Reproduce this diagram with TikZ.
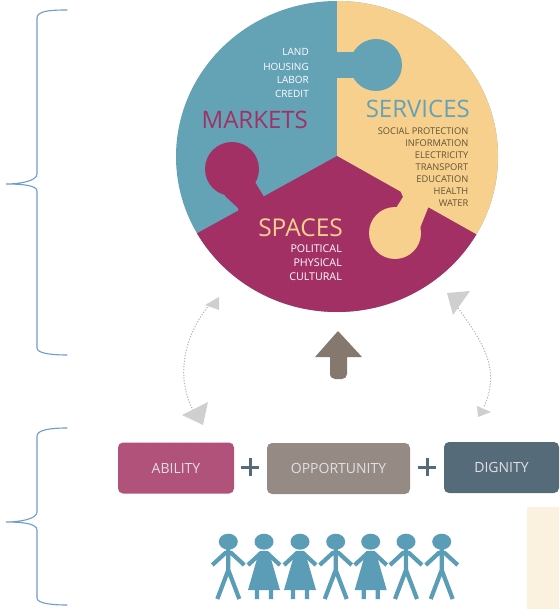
\documentclass[tikz,border=0pt]{standalone}
\usepackage{fontspec}
\setmainfont{Open Sans}
\definecolor{teal1}{HTML}{64A2B6}
\definecolor{sand}{HTML}{F6D08C}
\definecolor{wine}{HTML}{A33064}
\definecolor{boxa}{HTML}{B0527A}
\definecolor{boxb}{HTML}{968A84}
\definecolor{boxc}{HTML}{566B7A}
\definecolor{pers}{HTML}{5B9DB7}
\definecolor{cream}{HTML}{FBF1DF}
\definecolor{brace}{HTML}{6E9BD0}
\definecolor{head}{HTML}{CFCFCF}
\definecolor{upar}{HTML}{85786F}
\tikzset{
  small/.style={anchor=east,font=\fontsize{10}{12}\selectfont,inner sep=0pt},
  smalls/.style={anchor=east,font=\fontsize{9.3}{11}\selectfont,inner sep=0pt,text=black!60!sand},
  smallp/.style={anchor=east,font=\fontsize{10.7}{12}\selectfont,inner sep=0pt,text=white},
  big/.style={anchor=east,font=\fontsize{24}{28}\selectfont,inner sep=0pt},
  factor/.style={rounded corners=5pt,minimum height=51pt,inner sep=0pt,text=white!88!black,font=\fontsize{14}{16}\selectfont},
  bracepath/.style={draw=brace,line width=1.1pt,line cap=round},
  dots/.style={draw=black!30,line width=1pt,dash pattern=on 1.2pt off 1.6pt},
  plusmark/.style={draw=boxc,line width=3pt},
  limb/.style={draw=pers,line width=4.2pt},
}
\newcommand{\manfig}[1]{%
  \fill[pers] (#1,541.7) ellipse [x radius=9.5,y radius=8];
  \draw[limb] (#1,548)--(#1,573) (#1-11,599)--(#1,570)--(#1+11,599) (#1-16,565)--(#1-3,553)--(#1+3,553)--(#1+16,565);
}
\newcommand{\womanfig}[1]{%
  \fill[pers] (#1,541.7) ellipse [x radius=9.5,y radius=8];
  \fill[pers] (#1-5,552)--(#1+5,552)--(#1+16,590)--(#1-16,590)--cycle;
  \draw[limb] (#1-7,588)--(#1-7,599) (#1+7,588)--(#1+7,599) (#1-16,565)--(#1-3,553)--(#1+3,553)--(#1+16,565);
}
\begin{document}
\begin{tikzpicture}[x=1pt,y=-1pt]
\useasboundingbox (0,0) rectangle (559,609);
% wheel
\begin{scope}
  \clip (337,156.5) ellipse [x radius=161,y radius=155.5];
  \fill[teal1] (170,-5) rectangle (500,320);
  \fill[sand] (337,156) -- (337,-10) -- (600,-10) -- (600,304) -- cycle;
  \fill[wine] (337,156) -- (600,304) -- (600,400) -- (60,400) -- (60,309) -- cycle;
\end{scope}
% tabs
\fill[teal1] (376,65) circle [radius=26];
\fill[teal1] (336,52) rectangle (360,78);
\fill[wine] (232,169) circle [radius=27];
\fill[wine] (252,172) -- (255,182) -- (264,197) -- (268,205) -- (240,218) -- (238,208) -- (225,196) -- (222,185) -- cycle;
\fill[sand] (395,233) circle [radius=26];
\fill[sand] (398,185) -- (434,200) -- (428,208) -- (420,228) -- (395,215) -- (396,208) -- (403,197) -- cycle;
% wheel labels
\node[small,text=white] at (309,52) {LAND};
\node[small,text=white] at (309,66.5) {HOUSING};
\node[small,text=white] at (309,80) {LABOR};
\node[small,text=white] at (309,94) {CREDIT};
\node[big,text=wine] at (308,120) {MARKETS};
\node[big,text=teal1] at (470,109) {SERVICES};
\node[smalls] at (468.5,131) {SOCIAL PROTECTION};
\node[smalls] at (468.5,143) {INFORMATION};
\node[smalls] at (468.5,155) {ELECTRICITY};
\node[smalls] at (468.5,167) {TRANSPORT};
\node[smalls] at (468.5,179) {EDUCATION};
\node[smalls] at (468.5,191) {HEALTH};
\node[smalls] at (468.5,203) {WATER};
\node[big,text=sand,font=\fontsize{24.5}{28}\selectfont] at (343,228) {SPACES};
\node[smallp] at (342,249) {POLITICAL};
\node[smallp] at (342,263) {PHYSICAL};
\node[smallp] at (342,277) {CULTURAL};
% side arrows
\coordinate (la) at (213,301);
\coordinate (lb) at (193,410);
\coordinate (ra) at (458,308);
\coordinate (rb) at (484,407);
\draw[dots] (la) .. controls (190,325) and (172,370) .. (lb);
\draw[dots] (ra) .. controls (485,345) and (500,370) .. (rb);
\fill[head] (219,297) -- (205,305) -- (219,310) -- cycle;
\fill[head] (182,415) -- (208,402) -- (203,425) -- cycle;
\fill[head] (470,291) -- (447,293) -- (453,315) -- cycle;
\fill[head] (491,412) -- (477,406) -- (478,417) -- cycle;
% central arrow
\fill[upar,rounded corners=0.5pt] (338,331) -- (362,357) -- (347,357) -- (347,372) [rounded corners=5pt] -- (347,379) -- (330,379) -- (330,372) [rounded corners=0.5pt] -- (330,357) -- (315,357) -- cycle;
% factor boxes
\node[factor,fill=boxa,minimum width=116pt] (ability) at (176,468) {ABILITY};
\node[factor,fill=boxb,minimum width=143pt] (opportunity) at (338.5,468.5) {OPPORTUNITY};
\node[factor,fill=boxc,minimum width=115pt] (dignity) at (501.5,467.5) {DIGNITY};
\draw[plusmark] (241,467)--(259,467) (250,458)--(250,476);
\draw[plusmark] (418,467)--(436,467) (427,458)--(427,476);
% cream panel
\fill[cream] (527,507) rectangle (559,609);
% people
\manfig{228.3}
\womanfig{264}
\womanfig{300}
\manfig{335.7}
\womanfig{370.7}
\manfig{406}
\manfig{441.7}
% braces
\draw[bracepath] (67,10) .. controls (50,10) and (37,11) .. (37,18) -- (37,174) .. controls (37,181) and (20,184) .. (6,184) .. controls (20,184) and (37,185) .. (37,191) -- (37,348) .. controls (37,353) and (50,355) .. (67,355);
\draw[bracepath] (67,428) .. controls (50,428) and (37,430) .. (37,436) -- (37,512) .. controls (37,519) and (20,522) .. (6,522) .. controls (20,522) and (37,523) .. (37,530) -- (37,598) .. controls (37,603) and (50,605) .. (67,605);
\end{tikzpicture}
\end{document}
